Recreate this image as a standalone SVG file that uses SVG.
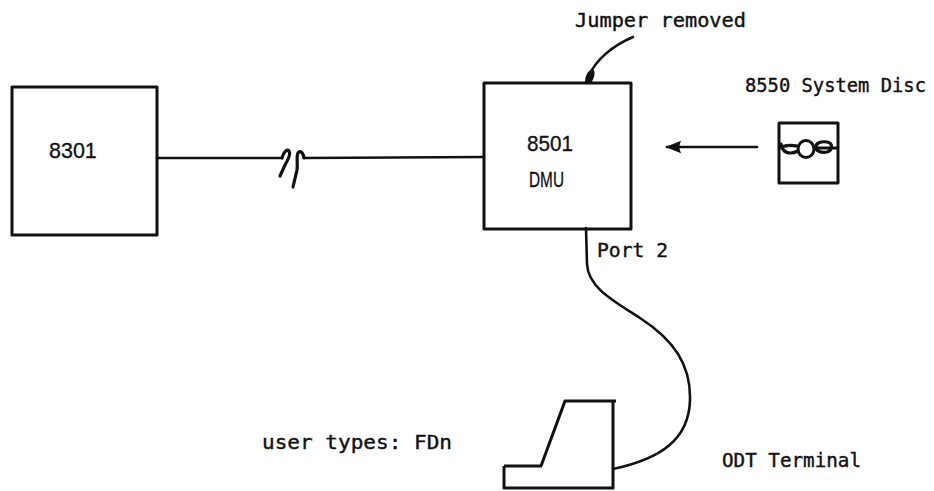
<svg xmlns="http://www.w3.org/2000/svg" width="934" height="491" viewBox="0 0 934 491">
  <style>
    .box { fill: none; stroke: #111; stroke-width: 3; stroke-linejoin: round; }
    .wire { fill: none; stroke: #111; stroke-width: 2.6; stroke-linecap: round; stroke-linejoin: round; }
    .brk { fill: none; stroke: #111; stroke-width: 3.2; stroke-linecap: round; stroke-linejoin: round; }
    .lbl { font-family: "Liberation Sans", Arial, sans-serif; font-size: 21.5px; fill: #111; stroke: #111; stroke-width: 0.3; }
    .mono { font-family: "DejaVu Sans Mono", "Liberation Mono", monospace; font-size: 19.5px; fill: #111; stroke: #111; stroke-width: 0.4; }
  </style>
  <defs>
    <marker id="head" viewBox="0 0 10 10" refX="9" refY="5" markerWidth="7.5" markerHeight="6" markerUnits="strokeWidth" orient="auto">
      <path d="M0,1 L10,5 L0,9 Q2,5 0,1 Z" fill="#111"/>
    </marker>
  </defs>
  <rect width="934" height="491" fill="#fff"/>

  <!-- connectors -->
  <g id="connectors">
    <!-- long link with break mark -->
    <path class="wire" d="M157,158 L282,158"/>
    <path class="brk" d="M282,158 C284,151 287,149 289,151 C291,154 288,160 285,165 L280,176"/>
    <path class="brk" d="M304,158 C303,152 300,150 298,153 C296,157 298,163 297,170 L293,187"/>
    <path class="wire" d="M304,158 L484,157"/>
    <!-- disc loading arrow -->
    <path class="wire" d="M757,147 L667,147" marker-end="url(#head)"/>
    <!-- jumper pointer -->
    <path class="wire" d="M633,37 C612,46 596,60 590,74"/>
    <path d="M585,83 C585,77 587,71 592,69 C596,70 595,77 591,83 Z" fill="#111"/>
    <!-- port 2 cable to terminal -->
    <path class="wire" d="M586,228 L587,264 C588,287 612,300 640,318 C674,340 691,365 690,400 C689,440 660,459 613,469"/>
  </g>

  <g id="node-8301">
    <rect class="box" x="12" y="87" width="145" height="148"/>
    <text class="lbl" x="49" y="158">8301</text>
  </g>

  <g id="node-dmu">
    <rect class="box" x="484" y="83" width="147" height="146"/>
    <text class="lbl" x="527" y="151" textLength="46" lengthAdjust="spacingAndGlyphs">8501</text>
    <text class="lbl" x="529" y="187" textLength="35" lengthAdjust="spacingAndGlyphs">DMU</text>
  </g>

  <g id="node-disc">
    <rect class="box" x="779" y="123" width="59" height="60"/>
    <ellipse cx="806" cy="149" rx="8" ry="8.5" fill="none" stroke="#111" stroke-width="3"/>
    <path class="brk" d="M781,144 C782,153 790,155 798,151"/>
    <path class="brk" d="M781,147 C786,145 792,145 797,146"/>
    <path class="brk" d="M837,148 L816,148 C815,143 821,141 827,142 C833,143 833,150 827,152 C821,153 816,151 816,148"/>
  </g>

  <g id="node-terminal">
    <path class="box" d="M504,466 L541,466 L565,401 L616,401 M613,401 L613,488 L504,488 L504,466"/>
  </g>

  <g id="labels">
    <text class="mono" x="575" y="27" textLength="171" lengthAdjust="spacingAndGlyphs">Jumper removed</text>
    <text class="mono" x="745" y="92" textLength="181" lengthAdjust="spacingAndGlyphs">8550 System Disc</text>
    <text class="mono" x="597" y="257" textLength="71" lengthAdjust="spacingAndGlyphs">Port 2</text>
    <text class="mono" x="262" y="449" textLength="190" lengthAdjust="spacingAndGlyphs">user types: FDn</text>
    <text class="mono" x="722" y="467" textLength="139" lengthAdjust="spacingAndGlyphs">ODT Terminal</text>
  </g>
</svg>
